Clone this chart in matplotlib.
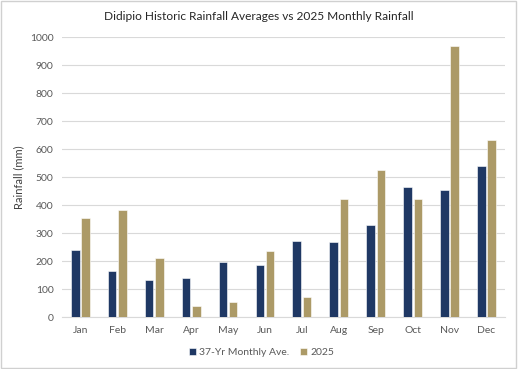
import numpy as np
import matplotlib
matplotlib.use("Agg")
import matplotlib.pyplot as plt
from matplotlib.patches import Rectangle

months = ["Jan", "Feb", "Mar", "Apr", "May", "Jun", "Jul", "Aug", "Sep", "Oct", "Nov", "Dec"]
avg_37yr = [242, 165, 132, 139, 199, 187, 274, 270, 329, 464, 455, 540]
rain_2025 = [354, 385, 211, 40, 56, 236, 74, 424, 525, 421, 969, 633]

navy = "#1F3864"
gold = "#AC9A67"
text_grey = "#595959"

plt.rcParams["font.family"] = ["Lato", "DejaVu Sans"]

fig = plt.figure(figsize=(5.18, 3.69), dpi=100)
ax = fig.add_axes([0.1197, 0.140, 0.855, 0.759])

x = np.arange(len(months))
w = 0.23
off = 0.14
ax.bar(x - off, avg_37yr, w, color=navy, edgecolor="white", linewidth=0.4,
       label="37-Yr Monthly Ave.", zorder=3)
ax.bar(x + off, rain_2025, w, color=gold, edgecolor="white", linewidth=0.4,
       label="2025", zorder=3)

ax.set_xlim(-0.5, len(months) - 0.5)
ax.set_ylim(0, 1000)
ax.set_yticks(np.arange(0, 1001, 100))
ax.set_xticks(x)
ax.set_xticklabels(months)
ax.tick_params(axis="both", length=0, labelsize=7.5, colors=text_grey, pad=6)
ax.grid(axis="y", color="#D9D9D9", linewidth=0.8, zorder=0)
for side in ["top", "right", "left"]:
    ax.spines[side].set_visible(False)
ax.spines["bottom"].set_color("#D9D9D9")
ax.spines["bottom"].set_linewidth(0.8)

ax.set_ylabel("Rainfall (mm)", fontsize=8, color="#404040", labelpad=4)
fig.text(0.5, 0.955, "Didipio Historic Rainfall Averages vs 2025 Monthly Rainfall",
         ha="center", va="center", fontsize=8.6, color="#262626")

ax.legend(loc="center", bbox_to_anchor=(0.45, -0.126), ncol=2, frameon=False,
          fontsize=7.5, handlelength=0.7, handleheight=0.7, handletextpad=0.3,
          columnspacing=1.0, labelcolor=text_grey)

fig.patches.append(Rectangle((0.002, 0.003), 0.995, 0.993, transform=fig.transFigure,
                             fill=False, edgecolor="#D0D0D0", linewidth=1.0))

fig.savefig("out.png", dpi=100)
